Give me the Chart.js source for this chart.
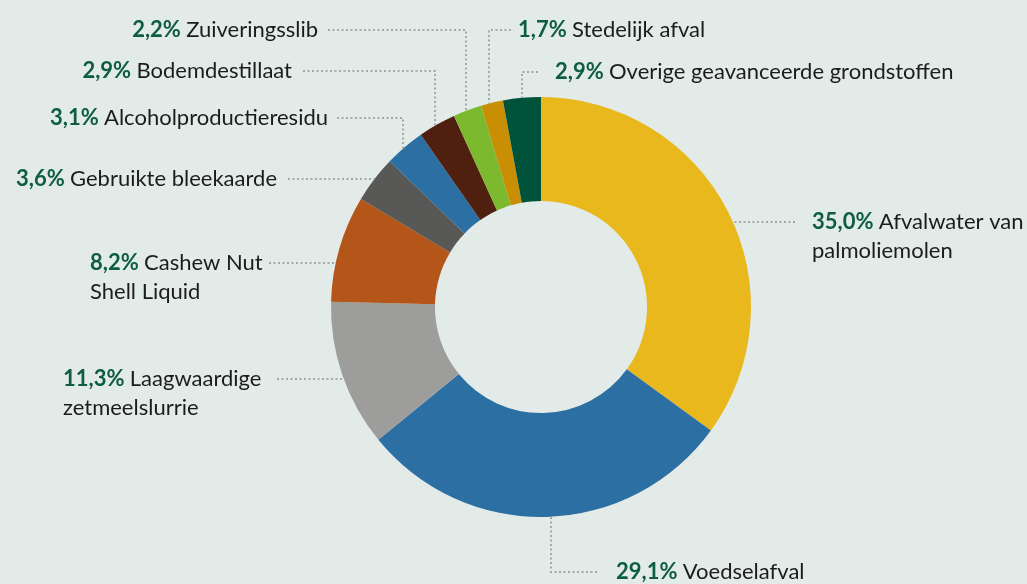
<!DOCTYPE html>
<html>
<head>
<meta charset="utf-8">
<script src="https://cdn.jsdelivr.net/npm/chart.js@4.4.1/dist/chart.umd.min.js"></script>
<style>
  html, body { margin: 0; padding: 0; background: #e2ebe7; }
  #wrap { width: 1027px; height: 584px; position: relative; }
</style>
</head>
<body>
<div id="wrap"><canvas id="grafico"></canvas></div>
<script>
// data
const categorieen = [
  ['Afvalwater van', 'palmoliemolen'],
  ['Voedselafval'],
  ['Laagwaardige', 'zetmeelslurrie'],
  ['Cashew Nut', 'Shell Liquid'],
  ['Gebruikte bleekaarde'],
  ['Alcoholproductieresidu'],
  ['Bodemdestillaat'],
  ['Zuiveringsslib'],
  ['Stedelijk afval'],
  ['Overige geavanceerde grondstoffen']
];
const aandelen = [35.0, 29.1, 11.3, 8.2, 3.6, 3.1, 2.9, 2.2, 1.7, 2.9];
const kleuren = ['#e9b81d', '#2c6fa3', '#9d9d9b', '#b4561a', '#585857',
                 '#2c6fa3', '#4f1f10', '#7cb92e', '#c98f04', '#00533b'];

// leader lines + label placement, offsets relative to the doughnut centre
// kind 'h': horizontal line from x1 to the ring; 'v': x1 -> x2 then vertical to the ring
const callouts = [
  { kind: 'h', y: -85, x1: 254, tx: 271, align: 'left' },
  { kind: 'v', y: 265, x1: 56, x2: 10, tx: 75, align: 'left' },
  { kind: 'h', y: 72, x1: -264, tx: -478, align: 'left' },
  { kind: 'h', y: -44, x1: -272, tx: -451, align: 'left' },
  { kind: 'h', y: -128, x1: -253, tx: -264, align: 'right' },
  { kind: 'v', y: -189, x1: -204, x2: -138, tx: -213, align: 'right' },
  { kind: 'v', y: -236, x1: -238, x2: -106, tx: -249, align: 'right' },
  { kind: 'v', y: -277, x1: -213, x2: -75, tx: -223, align: 'right' },
  { kind: 'v', y: -277, x1: -30, x2: -52, tx: -23, align: 'left' },
  { kind: 'v', y: -235, x1: -3, x2: -19, tx: 14, align: 'left' }
];

const fontNaam = 'Lato';
const fontSize = 22;
const regelHoogte = 29;

const calloutPlugin = {
  id: 'callouts',
  afterDraw(chart) {
    const ctx = chart.ctx;
    const arc = chart.getDatasetMeta(0).data[0];
    const cx = arc.x, cy = arc.y, R = arc.outerRadius;

    ctx.save();
    // leader lines
    ctx.strokeStyle = '#a5a8a6';
    ctx.lineWidth = 2;
    ctx.setLineDash([2, 2.5]);
    callouts.forEach(c => {
      ctx.beginPath();
      if (c.kind === 'h') {
        const dx = Math.sqrt(R * R - c.y * c.y) * Math.sign(c.x1);
        ctx.moveTo(cx + c.x1, cy + c.y);
        ctx.lineTo(cx + dx, cy + c.y);
      } else {
        const dy = Math.sqrt(R * R - c.x2 * c.x2) * Math.sign(c.y);
        ctx.moveTo(cx + c.x1, cy + c.y);
        ctx.lineTo(cx + c.x2, cy + c.y);
        ctx.lineTo(cx + c.x2, cy + dy);
      }
      ctx.stroke();
    });
    ctx.setLineDash([]);

    // labels
    ctx.textBaseline = 'alphabetic';
    ctx.textAlign = 'left';
    callouts.forEach((c, i) => {
      const pct = aandelen[i].toFixed(1).replace('.', ',') + '%';
      const regels = categorieen[i];
      const vet = `bold ${fontSize}px ${fontNaam}`;
      const normaal = `${fontSize}px ${fontNaam}`;
      ctx.font = vet;
      const wPct = ctx.measureText(pct + ' ').width;
      ctx.font = normaal;
      const wEerste = ctx.measureText(regels[0]).width;
      let x = cx + c.tx;
      if (c.align === 'right') x -= wPct + wEerste;
      let y = cy + c.y + 7;

      ctx.font = vet;
      ctx.fillStyle = '#0d5c43';
      ctx.fillText(pct, x, y);
      ctx.font = normaal;
      ctx.fillStyle = '#1c1c1c';
      ctx.fillText(regels[0], x + wPct, y);
      for (let r = 1; r < regels.length; r++) {
        ctx.fillText(regels[r], x, y + r * regelHoogte);
      }
    });
    ctx.restore();
  }
};

const ctx = document.getElementById('grafico').getContext('2d');

new Chart(ctx, {
  type: 'doughnut',
  data: {
    labels: categorieen.map(c => c.join(' ')),
    datasets: [{
      data: aandelen,
      backgroundColor: kleuren,
      borderWidth: 0
    }]
  },
  options: {
    responsive: true,
    maintainAspectRatio: false,
    animation: false,
    cutout: '50.5%',
    layout: { padding: { left: 55, right: 0, top: 97, bottom: 67 } },
    plugins: {
      legend: { display: false },
      tooltip: { enabled: false }
    }
  },
  plugins: [calloutPlugin]
});
</script>
</body>
</html>
